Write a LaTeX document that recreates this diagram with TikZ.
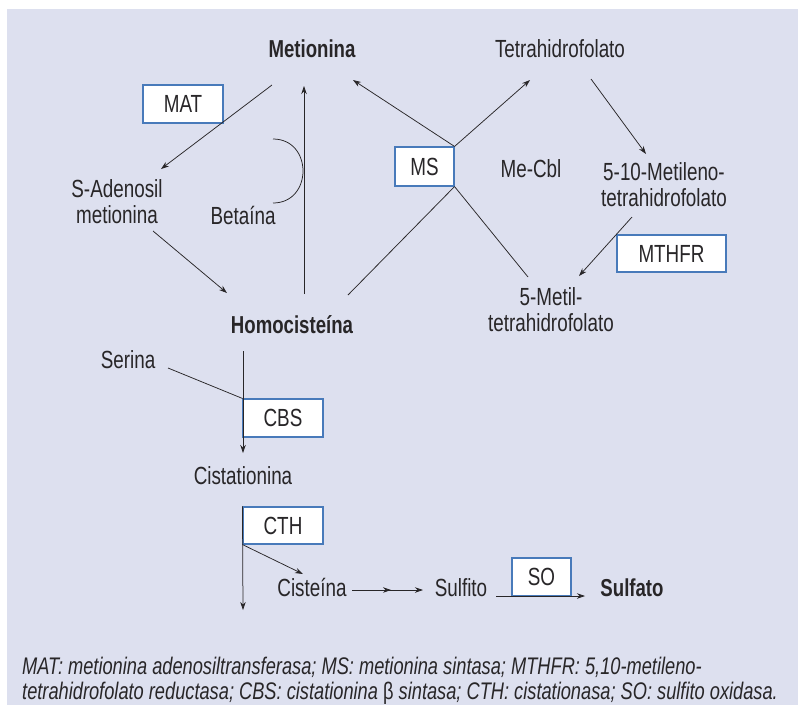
\documentclass[tikz,border=0pt]{standalone}
\usepackage{fontspec}
\setmainfont[FakeStretch=0.76]{Liberation Sans}
\usetikzlibrary{arrows.meta,decorations.markings}
\definecolor{bg}{RGB}{221,224,239}
\definecolor{ink}{RGB}{40,38,40}
\definecolor{boxblue}{RGB}{72,122,186}
\begin{document}
\begin{tikzpicture}[x=1pt,y=-1pt,
  lbl/.style={inner sep=0pt, align=center, text=ink, font=\fontsize{24.8}{26}\selectfont},
  bld/.style={lbl, font=\bfseries\fontsize{24.5}{26}\selectfont},
  enz/.style={draw=boxblue, line width=1.1pt, fill=white, inner sep=0pt, text=ink, font=\fontsize{24.8}{26}\selectfont},
  conn/.style={draw=ink, line width=0.75pt},
  arr/.style={conn, -{Stealth[length=8pt,width=5.5pt]}},
  leg/.style={inner sep=0pt, anchor=base west, text=ink, font=\itshape\fontsize{24}{25}\selectfont},
]
\useasboundingbox (0,0) rectangle (798,705);
\fill[bg] (7,9) rectangle (798,705);

% metabolites
\node[bld, anchor=base] (met) at (312,57) {Metionina};
\node[lbl, anchor=base] (thf) at (560,57) {Tetrahidrofolato};
\node[lbl] (sam) at (117,201.5) {S-Adenosil\\metionina};
\node[lbl, anchor=base] (bet) at (243,224) {Betaína};
\node[lbl, anchor=base] (mecbl) at (531,177) {Me-Cbl};
\node[lbl] (mthf10) at (664,184.5) {5-10-Metileno-\\tetrahidrofolato};
\node[lbl] (mthf5) at (551,309.5) {5-Metil-\\tetrahidrofolato};
\node[bld, anchor=base] (hcy) at (292,333) {Homocisteína};
\node[lbl, anchor=base] (ser) at (128,368) {Serina};
\node[lbl, anchor=base] (cist) at (243,484) {Cistationina};
\node[lbl, anchor=base] (cys) at (312,596) {Cisteína};
\node[lbl, anchor=base] (sulfito) at (461,596) {Sulfito};
\node[bld, anchor=base] (sulfato) at (632,596) {Sulfato};

% enzyme boxes
\node[enz, minimum width=80pt, minimum height=38pt] (mat) at (183,104) {MAT};
\node[enz, minimum width=59pt, minimum height=39pt] (ms) at (424.5,166.5) {MS};
\node[enz, minimum width=109pt, minimum height=37pt] (mthfr) at (671.5,253.5) {MTHFR};
\node[enz, minimum width=80pt, minimum height=38pt] (cbs) at (283,418) {CBS};
\node[enz, minimum width=80pt, minimum height=37pt] (cth) at (283,525.5) {CTH};
\node[enz, minimum width=59pt, minimum height=38pt] (so) at (541.5,577) {SO};

% connector end points
\coordinate (met-out) at (272,85);
\coordinate (sam-in) at (161,169);
\coordinate (sam-out) at (153,231);
\coordinate (hcy-in) at (227,293);
\coordinate (hcy-up) at (304,294);
\coordinate (met-in) at (304,86);
\coordinate (met-in2) at (353,80);
\coordinate (thf-in) at (530,80);
\coordinate (hcy-ms) at (348,295);
\coordinate (mthf5-ms) at (528,277);
\coordinate (thf-out) at (591,79);
\coordinate (mthf10-in) at (646,154);
\coordinate (mthf10-out) at (632,217);
\coordinate (mthf5-in) at (579,276);
\coordinate (bet-a) at (273,139);
\coordinate (bet-b) at (273,203);
\coordinate (hcy-down) at (243,351);
\coordinate (cist-in) at (243,453);
\coordinate (ser-out) at (168,368);
\coordinate (bottom-end) at (243,610);
\coordinate (cys-in) at (303,574);
\coordinate (cys-out) at (352,590);
\coordinate (sulfito-in) at (423,590);
\coordinate (sulfito-out) at (496,596);
\coordinate (sulfato-in) at (585,596);

% connectors
\draw[arr] (met-out) -- (sam-in);
\draw[arr] (sam-out) -- (hcy-in);
\draw[arr] (hcy-up) -- (met-in);
\draw[arr] (ms.north east) -- (met-in2);
\draw[arr] (ms.north east) -- (thf-in);
\draw[conn] (ms.south east) -- (hcy-ms);
\draw[conn] (ms.south east) -- (mthf5-ms);
\draw[arr] (thf-out) -- (mthf10-in);
\draw[arr] (mthf10-out) -- (mthf5-in);
\draw[conn] (bet-a) .. controls (313,139) and (313,203) .. (bet-b);
\draw[arr] (hcy-down) -- (cist-in);
\draw[conn] (ser-out) -- (cbs.north west);
\draw[arr] (cth.north west) -- (bottom-end);
\draw[arr] (cth.south west) -- (cys-in);
\draw[arr, postaction={decorate}, decoration={markings, mark=at position 0.55 with {\arrow{Stealth[length=8pt,width=5.5pt]}}}] (cys-out) -- (sulfito-in);
\draw[arr] (sulfito-out) -- (sulfato-in);

% legend
\node[leg] (leg1) at (22,674) {MAT: metionina adenosiltransferasa; MS: metionina sintasa; MTHFR: 5,10-metileno-};
\node[leg] (leg2) at (22,699) {tetrahidrofolato reductasa; CBS: cistationina {\upshape β} sintasa; CTH: cistationasa; SO: sulfito oxidasa.};
\end{tikzpicture}
\end{document}
